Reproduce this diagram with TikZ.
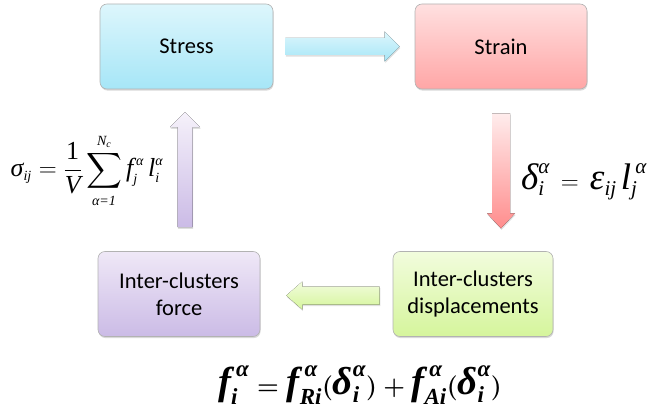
\documentclass[tikz,border=0pt]{standalone}
\usepackage[no-math]{fontspec}
\setmainfont{Carlito}
\newfontfamily\tnrfont{Liberation Serif}
\usepackage{amsmath}
\newcommand{\mi}[1]{\hbox{\tnrfont\itshape #1}}
\newcommand{\mr}[1]{\hbox{\tnrfont #1}}
\newcommand{\mbi}[1]{\hbox{\tnrfont\bfseries\itshape #1}}
\newcommand{\mis}[1]{\hbox{\tnrfont\itshape\fontsize{\sssz}{\sssz}\selectfont #1}}
\newcommand{\mbis}[1]{\hbox{\tnrfont\bfseries\itshape\fontsize{\sssz}{\sssz}\selectfont #1}}
\def\sssz{10}
\usetikzlibrary{calc,shadows,fadings}
\definecolor{cyanT}{HTML}{DDF6FC}
\definecolor{cyanB}{HTML}{A6E6F7}
\definecolor{redT}{HTML}{FFE0E0}
\definecolor{redB}{HTML}{FFA6A6}
\definecolor{purT}{HTML}{EFE8F7}
\definecolor{purB}{HTML}{CBBBE6}
\definecolor{grnT}{HTML}{F2FCDD}
\definecolor{grnB}{HTML}{D5F59C}
\tikzset{
  box/.style={rounded corners=7pt, minimum width=#1, minimum height=85pt,
    draw=black!30, line width=0.6pt, align=center,
    font=\fontsize{22.5}{27}\selectfont,
    drop shadow={opacity=0.3, shadow xshift=0.6pt, shadow yshift=-1.6pt}},
  fat/.style={draw=none, drop shadow={opacity=0.25, shadow xshift=0.6pt, shadow yshift=-1.6pt}},
  eq/.style={inner sep=0pt, anchor=center}
}
\begin{document}
\begin{tikzpicture}[x=1pt,y=-1pt]
\useasboundingbox (0,0) rectangle (650,414);
% boxes
\node[box=173pt, top color=cyanT, bottom color=cyanB] (stress) at (186.5,46.5) {Stress};
\node[box=172pt, top color=redT, bottom color=redB] (strain) at (501,46.5) {Strain};
\node[box=162pt, top color=purT, bottom color=purB] (force) at (179,294) {Inter-clusters\\force};
\node[box=160pt, top color=grnT, bottom color=grnB] (disp) at (473,294) {Inter-clusters\\displacements};
% top arrow: stress -> strain
\coordinate (a1s) at ($(stress.east)+(12,0)$);
\coordinate (a1e) at ($(strain.west)+(-15,0)$);
\fill[fat, top color=cyanT, bottom color=cyanB]
  ($(a1s)+(0,-8.5)$) -- ($(a1e)+(-15,-8.5)$) -- ($(a1e)+(-15,-15)$) -- (a1e)
  -- ($(a1e)+(-15,15)$) -- ($(a1e)+(-15,8.5)$) -- ($(a1s)+(0,8.5)$) -- cycle;
% right arrow: strain -> disp
\coordinate (a2s) at ($(strain.south)+(0,24)$);
\coordinate (a2e) at ($(strain.south)+(0,139)$);
\fill[fat, top color=redT!60!white, bottom color=redB!85!red]
  ($(a2s)+(-9,0)$) -- ($(a2e)+(-9,-15)$) -- ($(a2e)+(-14,-15)$) -- (a2e)
  -- ($(a2e)+(14,-15)$) -- ($(a2e)+(9,-15)$) -- ($(a2s)+(9,0)$) -- cycle;
% bottom arrow: disp -> force
\coordinate (a3s) at ($(disp.west)+(-13,1.5)$);
\coordinate (a3e) at ($(force.east)+(26,1.5)$);
\fill[fat, top color=grnT, bottom color=grnB]
  ($(a3s)+(0,-9)$) -- ($(a3e)+(16,-9)$) -- ($(a3e)+(16,-14)$) -- (a3e)
  -- ($(a3e)+(16,14)$) -- ($(a3e)+(16,9)$) -- ($(a3s)+(0,9)$) -- cycle;
% left arrow: force -> stress
\coordinate (a4s) at ($(force.north)+(6,-24)$);
\coordinate (a4e) at ($(force.north)+(6,-139)$);
\fill[fat, top color=purT!60!white, bottom color=purB]
  ($(a4s)+(-7.5,0)$) -- ($(a4e)+(-7.5,15)$) -- ($(a4e)+(-15,15)$) -- (a4e)
  -- ($(a4e)+(15,15)$) -- ($(a4e)+(7.5,15)$) -- ($(a4s)+(7.5,0)$) -- cycle;
% equations
\node[eq] (eqs) at (87,171) {\fontsize{26}{30}\selectfont\def\sssz{14}$\displaystyle \mi{σ}_{\mis{ij}}=\frac{\mr{1}}{\mi{V}}\sum_{\mis{α=1}}^{\mis{N\raisebox{-2pt}{\fontsize{10}{10}\selectfont c}}} \mi{f}_{\mis{j}}^{\,\mis{α}}\, \mi{l}_{\mis{i}}^{\mis{α}}$};
\node[eq] (eqd) at (584,182) {\fontsize{37}{42}\selectfont\def\sssz{21}$\mi{δ}_{\mis{i}}^{\mis{α}}\,=\,\mi{ε}_{\mis{ij}}\, \mi{l}_{\mis{j}}^{\,\mis{α}}$};
\node[eq] (eqf) at (360,385) {{\fontsize{39}{44}\selectfont\def\sssz{23}\boldmath $\mbi{f}_{\mbis{i}}^{\,\mbis{α}}=\mbi{f}_{\mbis{Ri}}^{\,\mbis{α}}(\mbi{δ}_{\mbis{i}}^{\mbis{α}})+\mbi{f}_{\mbis{Ai}}^{\,\mbis{α}}(\mbi{δ}_{\mbis{i}}^{\mbis{α}})$}};
\end{tikzpicture}
\end{document}
